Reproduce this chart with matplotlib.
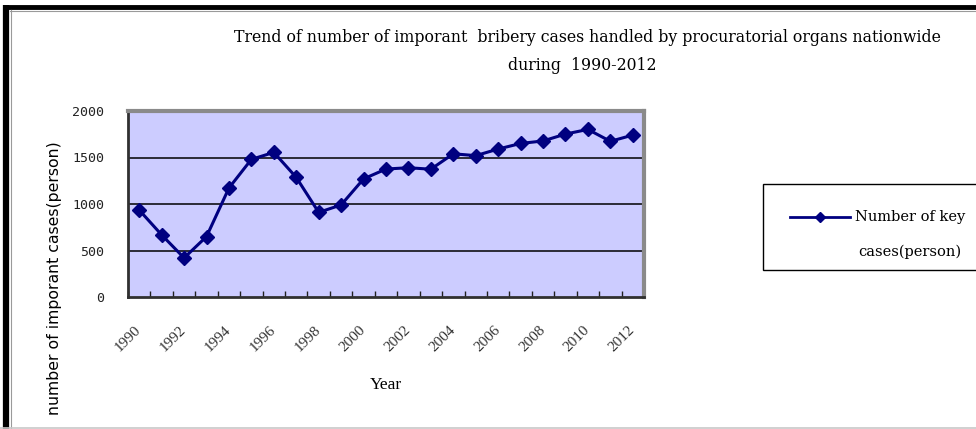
import matplotlib
matplotlib.use('Agg')
import matplotlib.pyplot as plt
from matplotlib.lines import Line2D
from matplotlib.patches import Rectangle
from matplotlib.ticker import FixedLocator

# data
years = list(range(1990, 2013))
cases = [935, 668, 420, 650, 1172, 1480, 1555, 1286, 910, 990, 1270, 1376, 1390, 1374,
         1540, 1520, 1591, 1651, 1678, 1752, 1802, 1674, 1741]
tick_years = years[::2]
y_ticks = [0, 500, 1000, 1500, 2000]
grid_levels = [500, 1000, 1500]

title_line1 = 'Trend of number of imporant  bribery cases handled by procuratorial organs nationwide'
title_line2 = 'during  1990-2012'
series_label = ['Number of key', 'cases(person)']

W, H = 976, 429
fig = plt.figure(figsize=(W / 100, H / 100), dpi=100)
fig.patch.set_facecolor('white')


def fx(px):
    return px / W


def fy(py):
    return 1 - py / H


# plot area in pixel coordinates of the reference
ax = fig.add_axes([fx(128), fy(297), fx(644) - fx(128), fy(111) - fy(297)])
ax.set_facecolor('#ccccff')

x = list(range(len(years)))
for lvl in grid_levels:
    ax.axhline(lvl, color='black', linewidth=1.1, zorder=1)

ax.plot(x, cases, color='#000080', linewidth=2.2, marker='D', markersize=7,
        markerfacecolor='#000080', markeredgecolor='#000080', zorder=3)

ax.set_xlim(-0.5, len(years) - 0.5)
ax.set_ylim(0, 2000)

# tick marks at category boundaries, labels every other year
ax.xaxis.set_major_locator(FixedLocator([years.index(y) for y in tick_years]))
ax.set_xticklabels([str(y) for y in tick_years])
ax.xaxis.set_minor_locator(FixedLocator([i - 0.5 for i in range(len(years) + 1)]))
ax.tick_params(axis='x', which='major', length=0, pad=22)
ax.tick_params(axis='x', which='minor', direction='in', length=4, width=1, color='#202020')
for lab in ax.get_xticklabels():
    lab.set_rotation(45)
    lab.set_rotation_mode('anchor')
    lab.set_ha('right')
    lab.set_va('center')
    lab.set_family('Liberation Serif')
    lab.set_fontsize(11)
    lab.set_color('#333333')

ax.set_yticks(y_ticks)
ax.set_yticklabels([str(v) for v in y_ticks], family='DejaVu Sans Mono', fontsize=9.5,
                   color='#222222')
ax.tick_params(axis='y', length=0, pad=17)

for side in ('left', 'bottom'):
    ax.spines[side].set_color('#303030')
    ax.spines[side].set_linewidth(2)
for side in ('top', 'right'):
    ax.spines[side].set_color('#8a8a8a')
    ax.spines[side].set_linewidth(3)

ax.set_xlabel('Year', family='Liberation Serif', fontsize=12.5, va='center')
ax.xaxis.set_label_coords(0.5, (297 - 385) / 186)

# y label sits lower than the plot centre in the reference
fig.text(fx(55), fy(278), 'number of imporant cases(person)', rotation=90,
         ha='center', va='center', family='DejaVu Sans', fontsize=11.3)

# title, two lines
fig.text(fx(587), fy(38), title_line1, ha='center', va='center',
         family='DejaVu Serif', fontsize=11.3)
fig.text(fx(582), fy(65), title_line2, ha='center', va='center',
         family='DejaVu Serif', fontsize=11.3)

# legend box drawn by hand (handle aligned with the first label line)
fig.add_artist(Rectangle((fx(763), fy(270)), fx(990) - fx(763), fy(184) - fy(270),
                         transform=fig.transFigure, facecolor='white',
                         edgecolor='black', linewidth=1))
fig.add_artist(Line2D([fx(790), fx(850)], [fy(217), fy(217)], transform=fig.transFigure,
                      color='#000080', linewidth=2))
fig.add_artist(Line2D([fx(820)], [fy(217)], transform=fig.transFigure, marker='D',
                      markersize=5, color='#000080', linestyle='none'))
fig.text(fx(855), fy(217), series_label[0], ha='left', va='center',
         family='DejaVu Serif', fontsize=10.5)
fig.text(fx(858), fy(252), series_label[1], ha='left', va='center',
         family='DejaVu Serif', fontsize=10.5)

# outer chart border: heavy black on top and left, light grey at bottom
fig.add_artist(Line2D([fx(6), fx(6)], [fy(5), fy(429)], transform=fig.transFigure,
                      color='black', linewidth=4.5, solid_capstyle='butt'))
fig.add_artist(Line2D([fx(3), fx(976)], [fy(7), fy(7)], transform=fig.transFigure,
                      color='black', linewidth=3.5, solid_capstyle='butt'))
fig.add_artist(Line2D([fx(10), fx(976)], [fy(10.5), fy(10.5)], transform=fig.transFigure,
                      color='#9a9a9a', linewidth=0.8))
fig.add_artist(Line2D([fx(10.5), fx(10.5)], [fy(10), fy(429)], transform=fig.transFigure,
                      color='#9a9a9a', linewidth=0.8))
fig.add_artist(Line2D([fx(0), fx(976)], [fy(428), fy(428)], transform=fig.transFigure,
                      color='#c8c8c8', linewidth=1.2))

fig.savefig('out.png', dpi=100)
plt.close(fig)
